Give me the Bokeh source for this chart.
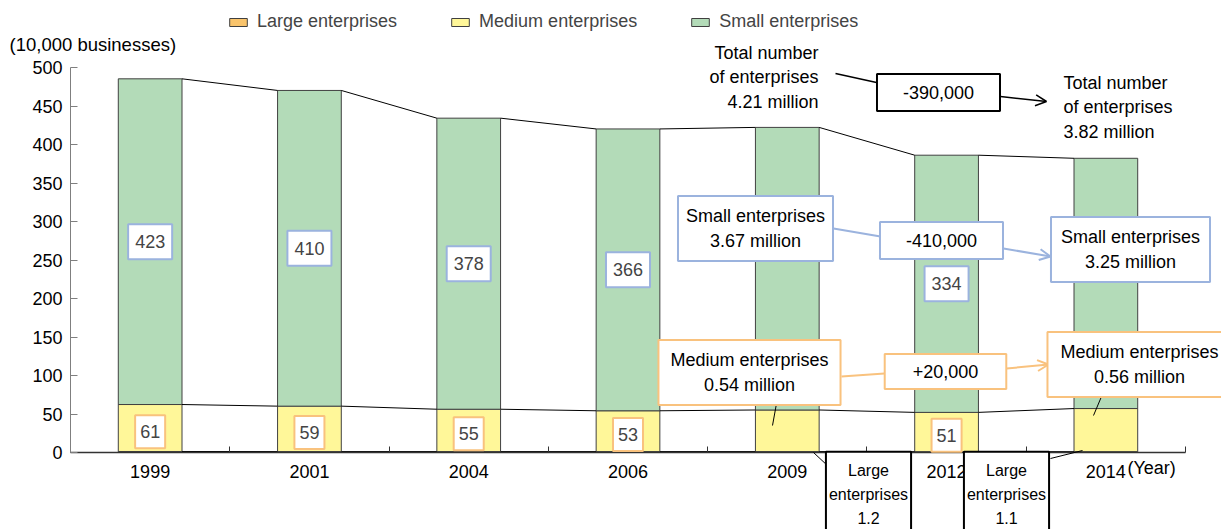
from bokeh.plotting import figure
from bokeh.models import (Range1d, FixedTicker, Legend, LegendItem, Label, Arrow,
                          OpenHead, ColumnDataSource, LinearAxis)
from bokeh.embed import file_html
from bokeh.resources import INLINE

# ---------------- data (10,000 businesses) ----------------
years = ["1999", "2001", "2004", "2006", "2009", "2012", "2014"]
large = [1.3, 1.2, 1.2, 1.2, 1.2, 1.1, 1.1]
medium = [61, 59, 55, 53, 54, 51, 56]
small = [423, 410, 378, 366, 367, 334, 325]
small_labelled = ["1999", "2001", "2004", "2006", "2012"]
medium_labelled = ["1999", "2001", "2004", "2006", "2012"]
y_ticks = [0, 50, 100, 150, 200, 250, 300, 350, 400, 450, 500]

FONT = "Liberation Sans"
C_LARGE = "#F9C46C"
C_MED = "#FFF799"
C_SMALL = "#B3DBB8"
C_EDGE = "#404040"
C_BLUE = "#9BB3DE"
C_ORANGE = "#F9C27E"

W, H = 1221, 529
# pixel box of the chart's plotting area inside the canvas
FR_L, FR_R, FR_T, FR_B = 70, 1185, 67, 452
N = len(years)
YMAX = 500


def dx(px):
    return (px - FR_L) / (FR_R - FR_L) * N - 0.5


def dy(py):
    return (FR_B - py) / (FR_B - FR_T) * YMAX


x = list(range(N))
lm = [a + b for a, b in zip(large, medium)]
tot = [a + b for a, b in zip(lm, small)]

p = figure(width=W, height=H, x_range=Range1d(dx(0), dx(W)), y_range=Range1d(dy(H), dy(0)),
           min_border=0, output_backend="svg", toolbar_location=None,
           x_axis_location=None, y_axis_location=None,
           background_fill_color="white", border_fill_color="white")
p.outline_line_color = None
p.xgrid.visible = False
p.ygrid.visible = False

BW = 0.4
src = ColumnDataSource(dict(x=x, large=large, lm=lm, tot=tot, zero=[0] * N))
r_large = p.vbar(x="x", bottom="zero", top="large", width=BW, source=src,
                 fill_color=C_LARGE, line_color=C_EDGE, line_width=1)
r_med = p.vbar(x="x", bottom="large", top="lm", width=BW, source=src,
               fill_color=C_MED, line_color=C_EDGE, line_width=1)
r_small = p.vbar(x="x", bottom="lm", top="tot", width=BW, source=src,
                 fill_color=C_SMALL, line_color=C_EDGE, line_width=1)

# series lines between bars
for series in (large, lm, tot):
    p.segment(x0=[i + BW / 2 for i in x[:-1]], y0=series[:-1],
              x1=[i + 1 - BW / 2 for i in x[:-1]], y1=series[1:],
              line_color="black", line_width=1)

# axes (fixed inside the full-canvas frame)
yax = LinearAxis(fixed_location=-0.5, bounds=(0, YMAX), ticker=FixedTicker(ticks=y_ticks))
yax.major_tick_out = 0
yax.major_tick_in = 7
yax.minor_tick_line_color = None
yax.axis_line_color = "#7f7f7f"
yax.major_tick_line_color = "#7f7f7f"
yax.major_label_text_font = FONT
yax.major_label_text_font_size = "18px"
yax.major_label_text_color = "black"
yax.major_label_standoff = 8
p.add_layout(yax, "left")

xax = LinearAxis(fixed_location=0, bounds=(-0.5, N - 0.5),
                 ticker=FixedTicker(ticks=x, minor_ticks=[i - 0.5 for i in range(N + 1)]))
xax.major_label_overrides = {i: y for i, y in enumerate(years)}
xax.major_tick_line_color = None
xax.minor_tick_in = 6
xax.minor_tick_out = 0
xax.minor_tick_line_color = "#333333"
xax.axis_line_color = "#333333"
xax.axis_line_width = 1.5
xax.major_label_text_font = FONT
xax.major_label_text_font_size = "18px"
xax.major_label_text_color = "black"
xax.major_label_standoff = 6
p.add_layout(xax, "below")

# legend
legend = Legend(items=[LegendItem(label="Large enterprises", renderers=[r_large]),
                       LegendItem(label="Medium enterprises", renderers=[r_med]),
                       LegendItem(label="Small enterprises", renderers=[r_small])],
                orientation="horizontal", location=(227, H - 32),
                glyph_width=22, glyph_height=10, label_standoff=8, spacing=52,
                padding=0, margin=0, border_line_color=None, background_fill_alpha=0,
                label_text_font=FONT, label_text_font_size="18px", label_height=20)
p.add_layout(legend, "center")


def text(px, py, t, align="center", size="18px", lh=1.24, **kw):
    p.add_layout(Label(x=dx(px), y=dy(py), text=t, text_align=align, text_baseline="middle",
                       text_font=FONT, text_font_size=size, text_color="black",
                       text_line_height=lh, **kw))


def box(px, py, t, color, pad, align="center", size="18px", lw=2, lh=1.24):
    text(px, py, t, align=align, size=size, lh=lh, padding=pad, background_fill_color="white",
         border_line_color=color, border_line_width=lw)


def line(x0, y0, x1, y1, color, lw=1.5, head=False):
    end = OpenHead(size=11, line_color=color, line_width=lw) if head else None
    p.add_layout(Arrow(x_start=dx(x0), y_start=dy(y0), x_end=dx(x1), y_end=dy(y1),
                       line_color=color, line_width=lw, end=end))


# value labels in bars
for i, yr in enumerate(years):
    if yr in small_labelled:
        p.add_layout(Label(x=i, y=lm[i] + small[i] / 2, text=f"{small[i]}", text_align="center",
                           text_baseline="middle", text_font=FONT, text_font_size="18px",
                           padding=(7, 11), background_fill_color="white",
                           border_line_color=C_BLUE, border_line_width=2))
    if yr in medium_labelled:
        p.add_layout(Label(x=i, y=large[i] + medium[i] * 0.42, text=f"{medium[i]}",
                           text_align="center", text_baseline="middle", text_font=FONT,
                           text_font_size="18px", padding=(5, 10), background_fill_color="white",
                           border_line_color=C_ORANGE, border_line_width=2))

# axis titles
text(9, 44, "(10,000 businesses)", align="left", size="18.5px")
text(1127, 467, "(Year)", align="left")

# total annotations
text(818, 77, "Total number\nof enterprises\n4.21 million", align="right")
line(835, 73, 876, 82, "black", lw=1.5)
box(938, 92, "-390,000", "black", (26, 12))
line(1000, 96, 1046, 101, "black", lw=1.5, head=True)
text(1063, 107, "Total number\nof enterprises\n3.82 million", align="left")

# small enterprise annotations
box(755, 228, "Small enterprises\n3.67 million", C_BLUE, (8, 10))
line(833, 228, 880, 236, C_BLUE, lw=2)
box(941, 240, "-410,000", C_BLUE, (26, 12))
line(1003, 248, 1050, 256, C_BLUE, lw=2, head=True)
box(1130, 249, "Small enterprises\n3.25 million", C_BLUE, (10, 10))

# medium enterprise annotations
line(776, 403, 772, 425, "black", lw=1)
line(1101, 396, 1093, 415, "black", lw=1)
box(749, 372, "Medium enterprises\n0.54 million", C_ORANGE, (12, 10))
line(841, 376, 884, 373, C_ORANGE, lw=2)
box(945, 371, "+20,000", C_ORANGE, (28, 11))
line(1006, 368, 1048, 364, C_ORANGE, lw=2, head=True)
box(1139, 364, "Medium enterprises\n0.56 million", C_ORANGE, (13, 10))

# large enterprise annotations
line(813, 452, 828, 466, "black", lw=1)
line(1050, 458, 1082, 450, "black", lw=1)
box(868, 494, "Large\nenterprises\n1.2", "black", (3, 10), size="16px", lh=1.42)
box(1006, 494, "Large\nenterprises\n1.1", "black", (3, 10), size="16px", lh=1.42)

open("out.html", "w").write(file_html(p, INLINE))
